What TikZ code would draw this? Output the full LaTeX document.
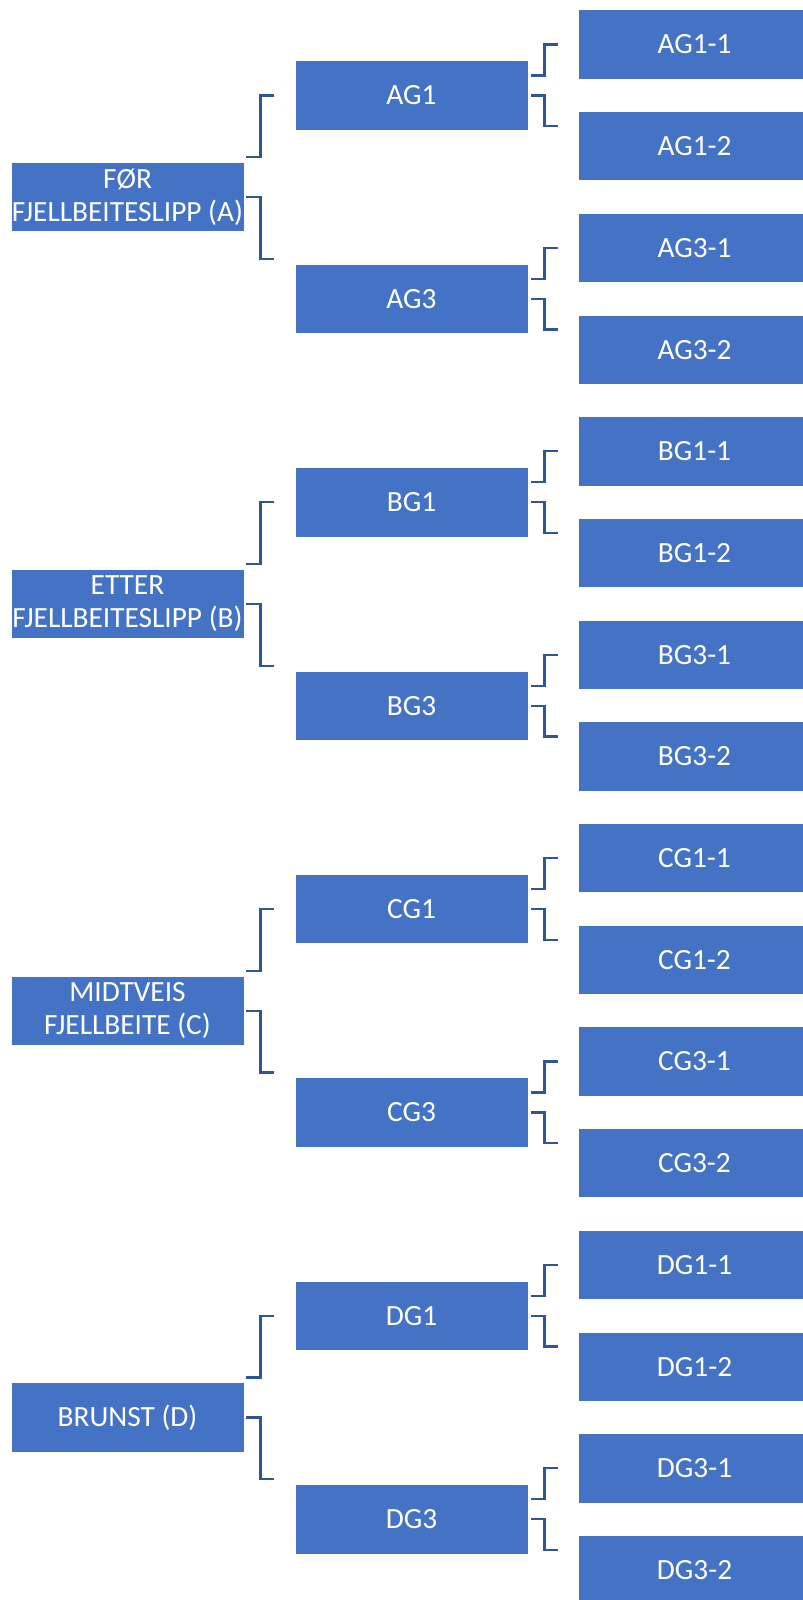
\documentclass[tikz,border=0pt]{standalone}
\usepackage{fontspec}
\setmainfont{Carlito}
\usepackage{tikz}
\usetikzlibrary{calc}

\definecolor{boxblue}{HTML}{4472C4}
\definecolor{linkblue}{HTML}{2F5597}

\tikzset{
  box/.style={rectangle, fill=boxblue, draw=white, line width=0.6pt,
    minimum width=174.75pt, minimum height=52pt, inner sep=0pt,
    align=center, text=white, font=\fontsize{22pt}{25pt}\selectfont},
  link/.style={draw=linkblue, line width=1.7pt},
}

\begin{document}
\begin{tikzpicture}[x=0.75pt, y=-0.75pt]
    \useasboundingbox (0,0) rectangle (803,1600);
    \clip (0,0) rectangle (803,1600);
    \foreach \g/\n/\lbl in {0/A/{FØR\\FJELLBEITESLIPP (A)}, 1/B/{ETTER\\FJELLBEITESLIPP (B)},
                            2/C/{MIDTVEIS\\FJELLBEITE (C)}, 3/D/{BRUNST (D)}}{
        % root
        \node[box] (\n) at (127.5, 197.05+\g*406.8) {\lbl};
        \foreach \m/\j in {1/0, 3/1}{
            % middle level
            \node[box] (\n G\m) at (411.5, 95.5+\j*203.4+\g*406.8) {\n G\m};
            \node[box] (\n G\m a) at (694.5, 44.5+\j*203.4+\g*406.8) {\n G\m-1};
            \node[box] (\n G\m b) at (694.5, 146.2+\j*203.4+\g*406.8) {\n G\m-2};
            \draw[link] ([xshift=2.25pt,yshift=15pt]\n G\m.east) -- ++(9.75pt,0)
                        |- ([xshift=-15pt]\n G\m a.west);
            \draw[link] ([xshift=2.25pt]\n G\m.east) -- ++(9.75pt,0)
                        |- ([xshift=-15pt,yshift=15pt]\n G\m b.west);
        }
        \draw[link] ([xshift=1.5pt,yshift=30pt]\n.east) -- ++(10.5pt,0)
                    |- ([xshift=-15.75pt]\n G1.west);
        \draw[link] ([xshift=1.5pt]\n.east) -- ++(10.5pt,0)
                    |- ([xshift=-15.75pt,yshift=30pt]\n G3.west);
    }
\end{tikzpicture}
\end{document}
